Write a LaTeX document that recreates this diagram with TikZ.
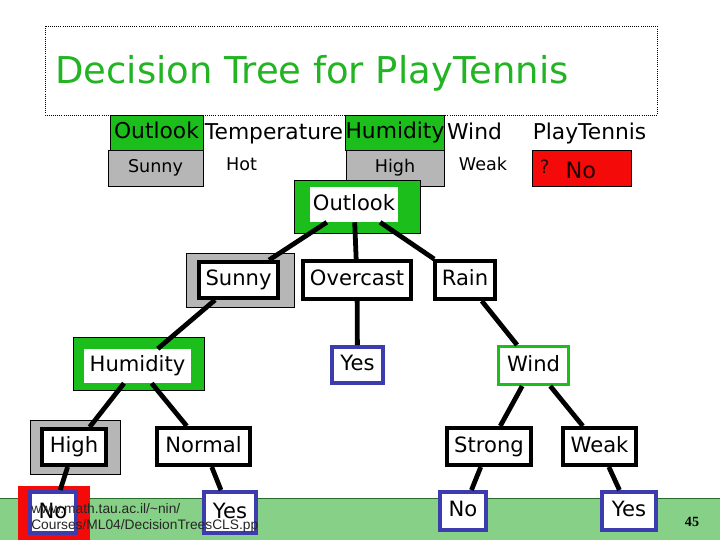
\documentclass[tikz,border=0pt]{standalone}
\usepackage{fontspec}
\setmainfont{DejaVu Sans}
\newfontfamily\footfont{Liberation Sans}
\newfontfamily\pagefont{Liberation Serif}

\definecolor{titlegreen}{RGB}{34,180,34}
\definecolor{treegreen}{RGB}{28,190,28}
\definecolor{leafblue}{RGB}{60,60,175}
\definecolor{boxgray}{RGB}{182,182,182}
\definecolor{answerred}{RGB}{245,10,10}
\definecolor{bandgreen}{RGB}{135,208,135}
\definecolor{banddark}{RGB}{40,110,40}

\newcommand{\px}{0.025cm}

\tikzset{
  bsize/.style 2 args={minimum width=#1*\px, minimum height=#2*\px},
  headbox/.style={draw=black, line width=0.5pt, inner sep=0pt,
    text height=11.5pt, text depth=3pt, font=\fontsize{15.5}{18}\selectfont},
  headtext/.style={inner sep=0pt, text height=11.5pt, text depth=3pt,
    font=\fontsize{15.5}{18}\selectfont},
  valtext/.style={inner sep=0pt, text height=9.5pt, text depth=2.5pt,
    font=\fontsize{12.5}{15}\selectfont},
  backing/.style={draw=black, line width=0.4pt, inner sep=0pt},
  attr/.style={fill=white, inner sep=0pt, text height=11pt, text depth=3pt,
    font=\fontsize{15}{18}\selectfont},
  branch/.style={attr, draw=black, line width=2.8pt},
  leaf/.style={attr, draw=leafblue, line width=2.8pt},
  edge/.style={line width=3.4pt}
}

\begin{document}
\begin{tikzpicture}[x=\px, y=-\px]
    \useasboundingbox (0,0) rectangle (720,540);
    % Bottom band of the slide
    \fill[bandgreen] (0,498) rectangle (720,540);
    \draw[banddark, line width=0.5pt] (0,498) -- (720,498);
    % Title
    \draw[densely dotted, line width=0.5pt] (45,26) rectangle (657,115);
    \node[anchor=base west, inner sep=0pt, text=titlegreen,
      font=\fontsize{26.3}{30}\selectfont] (title) at (55,83)
      {Decision Tree for PlayTennis};
    % Example to classify
    \node[headbox, fill=treegreen, bsize={93}{35}] (toutlook) at (156.5,132.5) {Outlook};
    \node[headbox, fill=boxgray, bsize={95}{36}, valtext] (tsunny) at (155.5,168) {Sunny\hspace{0.2cm}};
    \node[headtext] (ttemp) at (274,134) {Temperature};
    \node[valtext] (thot) at (241.5,166) {Hot};
    \node[headbox, fill=treegreen, bsize={98}{35}] (thumid) at (395,132.5) {Humidity};
    \node[headbox, fill=boxgray, bsize={98}{36}, valtext] (thigh) at (395,168) {High\hspace{0.3cm}};
    \node[headtext] (twind) at (474.5,134) {Wind};
    \node[valtext] (tweak) at (483,166) {Weak};
    \node[headtext] (tplay) at (589.5,134) {PlayTennis};
    \node[headbox, fill=answerred, bsize={99}{36}] (tanswer) at (581.5,168) {};
    \node[anchor=west, inner sep=0pt, text=black!85!red, font=\fontsize{16}{19}\selectfont]
      (tno) at ([xshift=0.2cm, yshift=-1pt]tanswer.west)
      {\raisebox{4pt}{\fontsize{13}{15}\selectfont ?}\hspace{0.4cm}No};
    % Tree, root
    \node[backing, fill=treegreen, bsize={126}{53}] (outlookbg) at (357,206.5) {};
    \node[attr, bsize={88}{35}] (outlook) at (354,204.5) {Outlook};
    \node[backing, fill=boxgray, bsize={108}{54}] (sunnybg) at (240,280) {};
    \node[branch, bsize={79}{36}] (sunny) at (238.5,280) {Sunny};
    \node[branch, bsize={108}{38}] (overcast) at (357,280) {Overcast};
    \node[branch, bsize={60}{38}] (rain) at (465,280) {Rain};
    % Second level
    \node[backing, fill=treegreen, bsize={131}{53}] (humiditybg) at (138.5,363.5) {};
    \node[attr, bsize={107}{34}] (humidity) at (137.5,366) {Humidity};
    \node[leaf, bsize={51}{36}] (yesover) at (357.5,365) {Yes};
    \node[attr, draw=treegreen, line width=2.2pt, bsize={70}{38}] (wind) at (533.5,365.5) {Wind};
    % Third level
    \node[backing, fill=boxgray, bsize={90}{54}] (highbg) at (75,447) {};
    \node[branch, bsize={64}{36}] (high) at (74,447) {High};
    \node[branch, bsize={93}{37}] (normal) at (203.5,446.5) {Normal};
    \node[branch, bsize={84}{37}] (strong) at (489,446.5) {Strong};
    \node[branch, bsize={73}{37}] (weak) at (599.5,446.5) {Weak};
    % Leaves
    \node[backing, draw=none, fill=answerred, bsize={72}{54}] (nohighbg) at (54,513) {};
    \node[leaf, bsize={46}{41}] (nohigh) at (53,512.5) {No};
    \node[leaf, bsize={52}{41}] (yesnormal) at (230,512.5) {Yes};
    \node[leaf, bsize={46}{38}] (nostrong) at (463,511) {No};
    \node[leaf, bsize={54}{38}] (yesweak) at (629,511) {Yes};
    % Branches
    \draw[edge] (outlook) -- (sunny);
    \draw[edge] (outlook) -- (overcast);
    \draw[edge] (outlook) -- (rain);
    \draw[edge] (sunny) -- (humidity);
    \draw[edge] (overcast) -- (yesover);
    \draw[edge] (rain) -- (wind);
    \draw[edge] (humidity) -- (high);
    \draw[edge] (humidity) -- (normal);
    \draw[edge] (wind) -- (strong);
    \draw[edge] (wind) -- (weak);
    \draw[edge] (high) -- (nohigh);
    \draw[edge] (normal) -- (yesnormal);
    \draw[edge] (strong) -- (nostrong);
    \draw[edge] (weak) -- (yesweak);
    % Footer
    \node[anchor=north west, inner sep=0pt, align=left, text=black!85,
      font=\footfont\fontsize{9.8}{11.4}\selectfont] (source) at (31,503)
      {www.math.tau.ac.il/\textasciitilde nin/\\Courses/ML04/DecisionTreesCLS.pp};
    \node[font=\pagefont\bfseries\fontsize{10}{12}\selectfont] (page) at (692,522) {45};
\end{tikzpicture}
\end{document}
